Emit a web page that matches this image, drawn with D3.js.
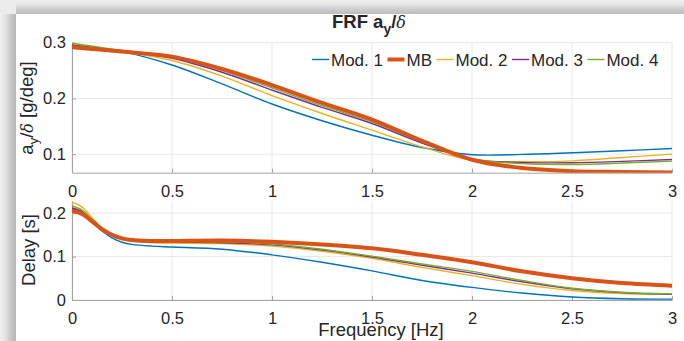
<!DOCTYPE html>
<html><head><meta charset="utf-8">
<script src="https://cdn.jsdelivr.net/npm/d3@7"></script>
<style>
html,body{margin:0;padding:0;background:#fff;}
text{font-family:"Liberation Sans",Arial,Helvetica,sans-serif;fill:#262626;}
</style></head>
<body><svg id="c" width="684" height="341"></svg>
<script>
// ---------- DATA ----------
const seriesNames = ["Mod. 1","MB","Mod. 2","Mod. 3","Mod. 4"];
const seriesColors = ["#0072BD","#D95319","#EDB120","#7E2F8E","#77AC30"];
const seriesWidths = [1.4,4,1.4,1.4,1.4];

// top panel: a_y / delta [g/deg]
const freqTop = [0,0.25,0.5,0.75,1,1.25,1.5,1.75,2,2.25,2.5,2.75,3];
const frfMod1 = [0.295,0.284,0.260,0.226,0.190,0.160,0.134,0.112,0.099,0.0995,0.1025,0.106,0.110];
const frfMB   = [0.292,0.284,0.275,0.253,0.224,0.192,0.162,0.124,0.090,0.075,0.0695,0.068,0.067];
const frfMod2 = [0.296,0.284,0.268,0.240,0.205,0.173,0.143,0.113,0.089,0.0865,0.088,0.094,0.100];
const frfMod3 = [0.296,0.285,0.272,0.247,0.215,0.184,0.155,0.120,0.091,0.085,0.0845,0.087,0.0905];
const frfMod4 = [0.299,0.286,0.275,0.250,0.219,0.187,0.158,0.122,0.092,0.083,0.0815,0.084,0.0875];

// bottom panel: delay [s]
const freqBot = [0,0.05,0.1,0.15,0.2,0.25,0.3,0.4,0.5,0.75,1,1.25,1.5,1.75,2,2.25,2.5,2.75,3];
const delayMod1 = [0.210,0.200,0.180,0.159,0.143,0.133,0.128,0.124,0.122,0.117,0.104,0.087,0.067,0.045,0.029,0.016,0.007,0.003,0.002];
const delayMB   = [0.205,0.198,0.181,0.163,0.150,0.142,0.138,0.136,0.136,0.137,0.134,0.128,0.119,0.104,0.087,0.066,0.050,0.039,0.033];
const delayMod2 = [0.226,0.214,0.190,0.166,0.150,0.140,0.135,0.132,0.131,0.130,0.124,0.112,0.096,0.075,0.056,0.036,0.022,0.015,0.013];
const delayMod3 = [0.212,0.204,0.184,0.164,0.150,0.141,0.137,0.134,0.133,0.132,0.127,0.115,0.099,0.080,0.062,0.042,0.026,0.017,0.013];
const delayMod4 = [0.217,0.207,0.186,0.165,0.151,0.143,0.139,0.136,0.135,0.134,0.129,0.117,0.101,0.083,0.066,0.045,0.027,0.018,0.014];

const xTicks = [0,0.5,1,1.5,2,2.5,3];
const yTicksTop = [0.1,0.2,0.3];
const yTicksBot = [0,0.1,0.2];

// ---------- DRAW ----------
const svg = d3.select("#c");
const defs = svg.append("defs");
const gT = defs.append("linearGradient").attr("id","gTop").attr("x1",0).attr("y1",0).attr("x2",0).attr("y2",1);
gT.append("stop").attr("offset","0%").attr("stop-color","#f1f1f1");
gT.append("stop").attr("offset","35%").attr("stop-color","#e2e2e2");
gT.append("stop").attr("offset","70%").attr("stop-color","#cbcbcb");
gT.append("stop").attr("offset","100%").attr("stop-color","#bdbdbd");
const gL = defs.append("linearGradient").attr("id","gLeft").attr("x1",0).attr("y1",0).attr("x2",1).attr("y2",0);
gL.append("stop").attr("offset","0%").attr("stop-color","#f1f1f1");
gL.append("stop").attr("offset","35%").attr("stop-color","#e2e2e2");
gL.append("stop").attr("offset","70%").attr("stop-color","#c6c6c6");
gL.append("stop").attr("offset","100%").attr("stop-color","#b8b8b8");

svg.append("rect").attr("width",684).attr("height",341).attr("fill","#ffffff");
svg.append("rect").attr("x",0).attr("y",0).attr("width",684).attr("height",14).attr("fill","url(#gTop)");
svg.append("rect").attr("x",0).attr("y",0).attr("width",16).attr("height",341).attr("fill","url(#gLeft)");
svg.append("rect").attr("x",0).attr("y",0).attr("width",16).attr("height",14).attr("fill","#ececec");

const x = d3.scaleLinear().domain([0,3]).range([72,672]);
const yT = d3.scaleLinear().domain([0.0667,0.3]).range([172.7,42.7]);
const yB = d3.scaleLinear().domain([0,0.228]).range([300,201]);

function panel(id, y, yTicks, freq, seriesList, yLabelParts, xLabelShow){
  const [y0,y1] = y.range();
  defs.append("clipPath").attr("id",id).append("rect")
    .attr("x",72).attr("y",y1-3).attr("width",600).attr("height",y0-y1+3);
  const g = svg.append("g");
  // grid
  g.selectAll(".vg").data(xTicks).join("line")
    .attr("x1",d=>x(d)).attr("x2",d=>x(d)).attr("y1",y1).attr("y2",y0)
    .attr("stroke","#e8e8e8").attr("stroke-width",1);
  g.selectAll(".hg").data(yTicks).join("line")
    .attr("x1",72).attr("x2",672).attr("y1",d=>y(d)).attr("y2",d=>y(d))
    .attr("stroke","#e8e8e8").attr("stroke-width",1);
  // axes
  const ax = d3.axisBottom(x).tickValues(xTicks).tickFormat(d=>String(d))
    .tickSizeInner(-4).tickSizeOuter(0).tickPadding(12.5);
  const axG = g.append("g").attr("transform",`translate(0,${y0})`).call(ax);
  const ay = d3.axisLeft(y).tickValues(yTicks).tickFormat(d=>String(d))
    .tickSizeInner(-4).tickSizeOuter(0).tickPadding(6);
  const ayG = g.append("g").attr("transform",`translate(72,0)`).call(ay);
  [axG,ayG].forEach(a=>{
    a.select(".domain").attr("stroke","#a3a3a3");
    a.selectAll(".tick line").attr("stroke","#a3a3a3");
    a.selectAll(".tick text").attr("font-size","16.5px").attr("fill","#262626")
      .attr("font-family","Liberation Sans, Arial, sans-serif");
  });
  ayG.select(".domain").attr("d",`M0.5,${y0}V${y1}`);
  // lines
  const line = d3.line().x(d=>x(d[0])).y(d=>y(d[1])).curve(d3.curveCatmullRom.alpha(0.5));
  const lg = g.append("g").attr("clip-path",`url(#${id})`);
  const order = [0,2,3,4,1];
  order.forEach(i=>{
    lg.append("path").datum(freq.map((f,k)=>[f,seriesList[i][k]]))
      .attr("d",line).attr("fill","none").attr("stroke",seriesColors[i])
      .attr("stroke-width",seriesWidths[i]).attr("stroke-linejoin","round").attr("stroke-linecap","round");
  });
  return g;
}

panel("clipTop", yT, yTicksTop, freqTop, [frfMod1,frfMB,frfMod2,frfMod3,frfMod4]);
panel("clipBot", yB, yTicksBot, freqBot, [delayMod1,delayMB,delayMod2,delayMod3,delayMod4]);

// y labels
const yl1 = svg.append("text").attr("transform","translate(33,108) rotate(-90)")
  .attr("text-anchor","middle").attr("font-size","18.5px");
yl1.append("tspan").text("a");
yl1.append("tspan").attr("dy",5).attr("font-size","13px").text("y");
yl1.append("tspan").attr("dy",-5).text("/");
yl1.append("tspan").attr("font-family","DejaVu Serif, serif").attr("font-style","italic").attr("font-size","16px").text("δ");
yl1.append("tspan").text(" [g/deg]");

svg.append("text").attr("transform","translate(35,250) rotate(-90)")
  .attr("text-anchor","middle").attr("font-size","18.5px").text("Delay [s]");

// x label
svg.append("text").attr("x",381).attr("y",336).attr("text-anchor","middle")
  .attr("font-size","18.5px").text("Frequency [Hz]");

// title
const t = svg.append("text").attr("x",369).attr("y",28).attr("text-anchor","middle")
  .attr("font-size","18.5px").attr("font-weight","bold");
t.append("tspan").text("FRF a");
t.append("tspan").attr("dy",6).attr("font-size","14px").text("y");
t.append("tspan").attr("dy",-6).text("/");
t.append("tspan").attr("font-family","DejaVu Serif, serif").attr("font-style","italic").attr("font-weight","normal").attr("font-size","16px").text("δ");

// legend
const leg = svg.append("g");
let lx = 312; const ly = 59.5;
seriesNames.forEach((n,i)=>{
  leg.append("line").attr("x1",lx).attr("x2",lx+17).attr("y1",ly).attr("y2",ly)
    .attr("stroke",seriesColors[i]).attr("stroke-width",seriesWidths[i]===4?4:1.4);
  const tx = leg.append("text").attr("x",lx+19).attr("y",ly+6).attr("font-size","17px").text(n);
  lx = lx + 19 + tx.node().getComputedTextLength() + 4.5;
});
</script></body></html>
